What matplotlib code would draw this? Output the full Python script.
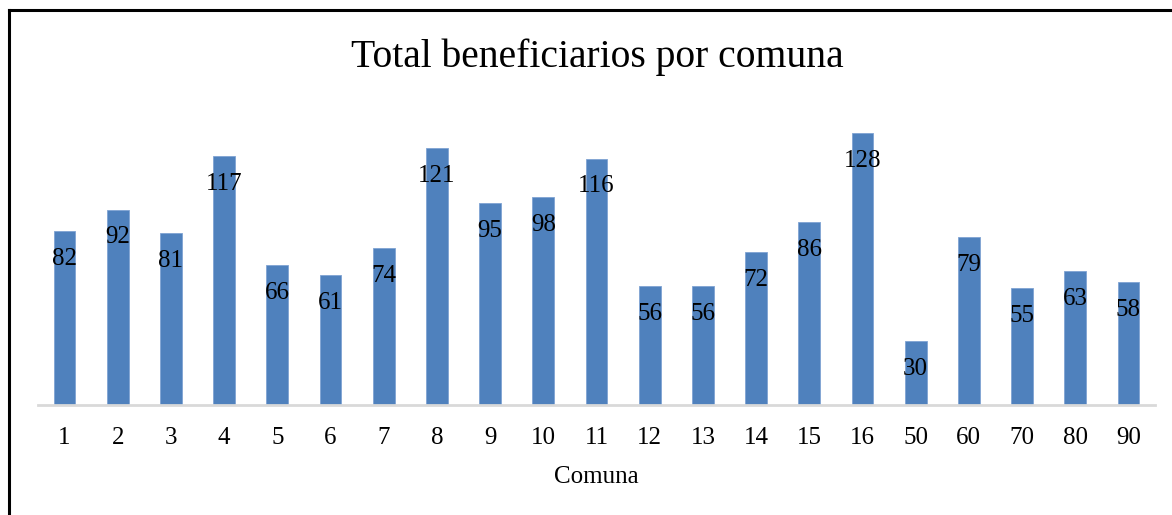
import matplotlib.pyplot as plt
from matplotlib.lines import Line2D
import numpy as np

comunas = ['1', '2', '3', '4', '5', '6', '7', '8', '9', '10', '11', '12', '13',
           '14', '15', '16', '50', '60', '70', '80', '90']
beneficiarios = [82, 92, 81, 117, 66, 61, 74, 121, 95, 98, 116, 56, 56,
                 72, 86, 128, 30, 79, 55, 63, 58]

plt.rcParams['font.family'] = ['Liberation Serif', 'DejaVu Serif']

W, H = 1172, 515
fig = plt.figure(figsize=(W / 100, H / 100), dpi=100)
ax = fig.add_axes([38 / W, (H - 405) / H, 1117 / W, 297.5 / H])

x = np.arange(len(comunas))
ax.bar(x, beneficiarios, width=0.41, color='#4F81BD', edgecolor='#7FA3D3', linewidth=0.6, zorder=2)

for xi, v in zip(x, beneficiarios):
    ax.annotate(str(v), (xi, v), xytext=(0, -20), textcoords='offset points',
                ha='center', va='center', fontsize=18, color='black', zorder=3)

ax.set_xlim(-0.5, len(comunas) - 0.5)
ax.set_ylim(0, 140)
ax.set_xticks(x)
ax.set_xticklabels(comunas, fontsize=18)
ax.tick_params(axis='x', length=0, pad=16)
ax.set_yticks([])
for s in ['top', 'right', 'left']:
    ax.spines[s].set_visible(False)
ax.spines['bottom'].set_color('#D9D9D9')
ax.spines['bottom'].set_linewidth(2)
ax.set_xlabel('Comuna', fontsize=18, labelpad=12)

fig.text(597 / W, 1 - 57 / H, 'Total beneficiarios por comuna', ha='center', va='center', fontsize=28.5)

# frame from the page, cropped at right and bottom
fig.add_artist(Line2D([9 / W, 1], [1 - 10 / H, 1 - 10 / H], transform=fig.transFigure, color='black', lw=2.2))
fig.add_artist(Line2D([9 / W, 9 / W], [0, 1 - 10 / H], transform=fig.transFigure, color='black', lw=2.2))

fig.savefig('out.png', dpi=100)
